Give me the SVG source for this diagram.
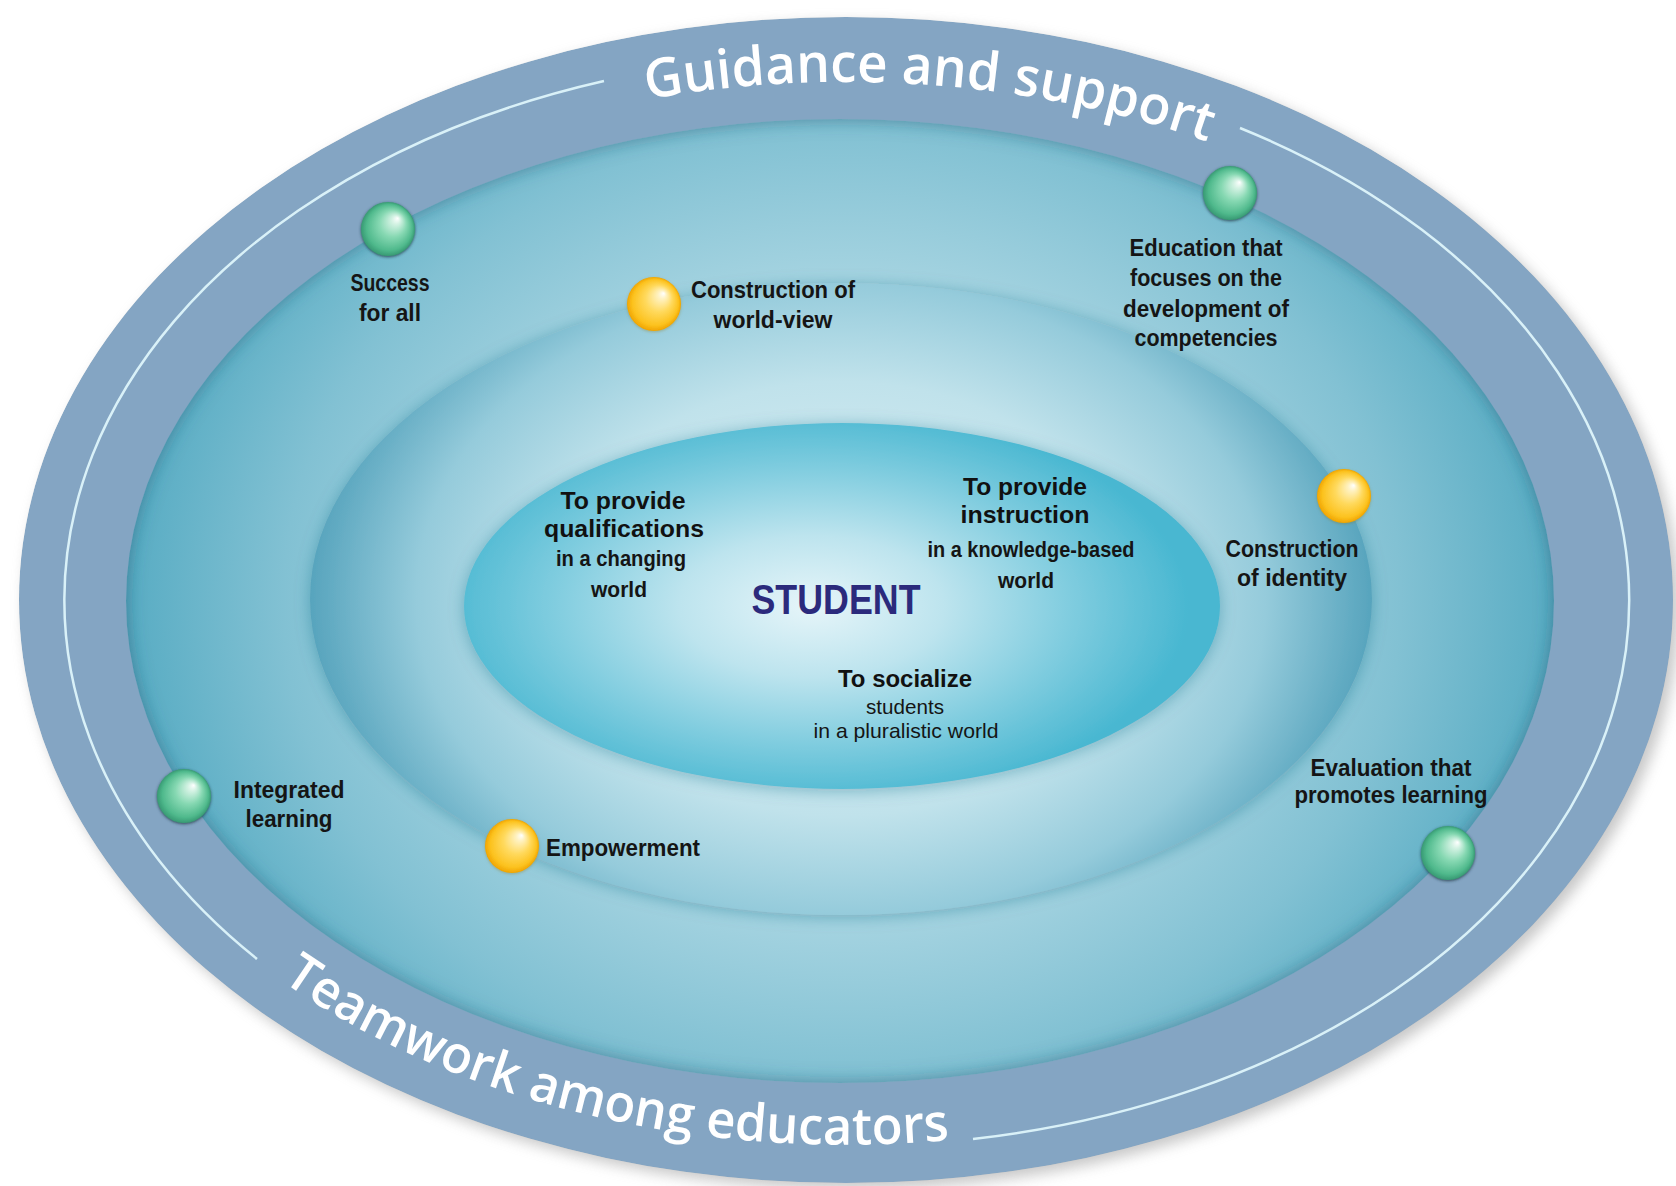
<svg xmlns="http://www.w3.org/2000/svg" width="1676" height="1186" viewBox="0 0 1676 1186">
<style>
.lbl{font-family:"Liberation Sans",Arial,sans-serif;font-size:23px;font-weight:700;fill:#151515;text-anchor:middle}
.hd{font-family:"Liberation Sans",Arial,sans-serif;font-size:24px;font-weight:700;fill:#111;text-anchor:middle}
.sub{font-family:"Liberation Sans",Arial,sans-serif;font-size:21px;font-weight:400;fill:#151515;text-anchor:middle}
.hd2{font-family:"Liberation Sans",Arial,sans-serif;font-size:22px;font-weight:700;fill:#151515;text-anchor:middle}
.student{font-family:"Liberation Sans",Arial,sans-serif;font-size:43px;font-weight:700;fill:#2b2a7c;text-anchor:middle}
.bandtxt{font-family:"Open Sans","Liberation Sans",sans-serif;font-size:54px;font-weight:600;fill:#ffffff}
.wline{fill:none;stroke:#d9f1f8;stroke-width:2.5}
</style>
<defs>
<radialGradient id="gTeal" cx="0.5" cy="0.5" r="0.5" gradientTransform="translate(0.5,0.5) scale(1,1.25) translate(-0.5,-0.5)">
<stop offset="0" stop-color="#c6e6ef"/>
<stop offset="0.5" stop-color="#a6d4e1"/>
<stop offset="0.75" stop-color="#82c1d3"/>
<stop offset="0.95" stop-color="#5aadc4"/>
<stop offset="1" stop-color="#4f9fb8"/>
</radialGradient>
<radialGradient id="gMid" cx="0.5" cy="0.5" r="0.5" gradientTransform="translate(0.5,0.5) scale(1,1.25) translate(-0.5,-0.5)">
<stop offset="0" stop-color="#e2f2f7"/>
<stop offset="0.55" stop-color="#c0e2eb"/>
<stop offset="0.8" stop-color="#95cbdb"/>
<stop offset="1" stop-color="#57a4bd"/>
</radialGradient>
<radialGradient id="gInner" cx="0.46" cy="0.5" r="0.5" gradientTransform="translate(0.5,0.5) scale(1,1.1) translate(-0.5,-0.5)">
<stop offset="0" stop-color="#e6f5f9"/>
<stop offset="0.35" stop-color="#bde4ee"/>
<stop offset="0.75" stop-color="#74c8dc"/>
<stop offset="1" stop-color="#48b7d1"/>
</radialGradient>
<radialGradient id="gGreen" cx="0.5" cy="0.5" r="0.5" fx="0.68" fy="0.3">
<stop offset="0" stop-color="#ffffff"/>
<stop offset="0.15" stop-color="#d6f3e5"/>
<stop offset="0.5" stop-color="#86d8b2"/>
<stop offset="0.85" stop-color="#4fb98c"/>
<stop offset="1" stop-color="#379973"/>
</radialGradient>
<radialGradient id="gYellow" cx="0.5" cy="0.5" r="0.5" fx="0.68" fy="0.3">
<stop offset="0" stop-color="#ffffff"/>
<stop offset="0.15" stop-color="#fff2c2"/>
<stop offset="0.5" stop-color="#ffd95c"/>
<stop offset="0.85" stop-color="#fcc21e"/>
<stop offset="1" stop-color="#f0a400"/>
</radialGradient>
<filter id="fOuter" x="-10%" y="-10%" width="120%" height="120%">
<feGaussianBlur stdDeviation="7"/>
</filter>
<filter id="fRing" x="-10%" y="-10%" width="120%" height="120%">
<feDropShadow dx="0" dy="0" stdDeviation="9" flood-color="#1b5a72" flood-opacity="0.55"/>
</filter>
<filter id="fSoft" x="-10%" y="-10%" width="120%" height="120%">
<feDropShadow dx="0" dy="2" stdDeviation="8" flood-color="#1f6a84" flood-opacity="0.4"/>
</filter>
<filter id="fBallG" x="-30%" y="-30%" width="160%" height="160%">
<feDropShadow dx="0" dy="1" stdDeviation="1.6" flood-color="#1d3b44" flood-opacity="0.85"/>
</filter>
<filter id="fBallY" x="-30%" y="-30%" width="160%" height="160%">
<feDropShadow dx="0" dy="1" stdDeviation="1.5" flood-color="#8a6a10" flood-opacity="0.35"/>
</filter>
<clipPath id="cOuter"><ellipse cx="846" cy="600" rx="827" ry="583"/></clipPath>
<path id="pTop" d="M 647,99.3 A 775 518 0 0 1 1207,141.6"/>
<path id="pBot" d="M 282,981 A 790 545 0 0 0 950,1140"/>
</defs>

<rect width="1676" height="1186" fill="#ffffff"/>

<g id="background">
<ellipse cx="852" cy="606" rx="827" ry="583" fill="#9a9a9a" opacity="0.55" filter="url(#fOuter)"/>
<ellipse id="teal-area" cx="842" cy="601" rx="745" ry="505" fill="url(#gTeal)"/>
</g>

<g id="ring-middle">
<ellipse cx="841" cy="599" rx="531" ry="316" fill="url(#gMid)" filter="url(#fSoft)"/>
</g>

<g id="ring-inner">
<ellipse cx="842" cy="606" rx="378" ry="183" fill="url(#gInner)" filter="url(#fSoft)"/>
</g>

<g id="band" clip-path="url(#cOuter)">
<path fill="#84a5c3" fill-rule="evenodd" filter="url(#fRing)" d="M 19,600 A 827 583 0 1 0 1673,600 A 827 583 0 1 0 19,600 Z M 126,601 A 714 482 0 1 0 1554,601 A 714 482 0 1 0 126,601 Z"/>
</g>

<g id="band-lines">
<path class="wline" d="M 604,81 A 782 546 0 0 0 257,959"/>
<path class="wline" d="M 1240,128 A 782 546 0 0 1 973,1139"/>
</g>

<g id="guidance-and-support">
<text class="bandtxt"><textPath href="#pTop" textLength="568" lengthAdjust="spacingAndGlyphs">Guidance and support</textPath></text>
</g>

<g id="teamwork-among-educators">
<text class="bandtxt" style="font-size:52px"><textPath href="#pBot" textLength="700" lengthAdjust="spacingAndGlyphs">Teamwork among educators</textPath></text>
</g>

<g id="connectors"></g>

<g id="node-success-for-all">
<circle cx="388" cy="229" r="27" fill="url(#gGreen)" filter="url(#fBallG)"/>
<text class="lbl" x="390" y="291" textLength="79" lengthAdjust="spacingAndGlyphs">Success</text>
<text class="lbl" x="390" y="321" textLength="62" lengthAdjust="spacingAndGlyphs">for all</text>
</g>

<g id="node-education-competencies">
<circle cx="1230" cy="193" r="27" fill="url(#gGreen)" filter="url(#fBallG)"/>
<text class="lbl" x="1206" y="256" textLength="153" lengthAdjust="spacingAndGlyphs">Education that</text>
<text class="lbl" x="1206" y="286" textLength="152" lengthAdjust="spacingAndGlyphs">focuses on the</text>
<text class="lbl" x="1206" y="317" textLength="166" lengthAdjust="spacingAndGlyphs">development of</text>
<text class="lbl" x="1206" y="346" textLength="143" lengthAdjust="spacingAndGlyphs">competencies</text>
</g>

<g id="node-integrated-learning">
<circle cx="184" cy="796" r="27" fill="url(#gGreen)" filter="url(#fBallG)"/>
<text class="lbl" x="289" y="798" textLength="111" lengthAdjust="spacingAndGlyphs">Integrated</text>
<text class="lbl" x="289" y="827" textLength="87" lengthAdjust="spacingAndGlyphs">learning</text>
</g>

<g id="node-evaluation">
<circle cx="1448" cy="853" r="27" fill="url(#gGreen)" filter="url(#fBallG)"/>
<text class="lbl" x="1391" y="776" textLength="161" lengthAdjust="spacingAndGlyphs">Evaluation that</text>
<text class="lbl" x="1391" y="803" textLength="193" lengthAdjust="spacingAndGlyphs">promotes learning</text>
</g>

<g id="node-world-view">
<circle cx="654" cy="304" r="27" fill="url(#gYellow)" filter="url(#fBallY)"/>
<text class="lbl" x="773" y="298" textLength="164" lengthAdjust="spacingAndGlyphs">Construction of</text>
<text class="lbl" x="773" y="328" textLength="119" lengthAdjust="spacingAndGlyphs">world-view</text>
</g>

<g id="node-identity">
<circle cx="1344" cy="496" r="27" fill="url(#gYellow)" filter="url(#fBallY)"/>
<text class="lbl" x="1292" y="557" textLength="133" lengthAdjust="spacingAndGlyphs">Construction</text>
<text class="lbl" x="1292" y="586" textLength="110" lengthAdjust="spacingAndGlyphs">of identity</text>
</g>

<g id="node-empowerment">
<circle cx="512" cy="846" r="27" fill="url(#gYellow)" filter="url(#fBallY)"/>
<text class="lbl" x="623" y="856" textLength="154" lengthAdjust="spacingAndGlyphs">Empowerment</text>
</g>

<g id="node-student">
<text class="student" x="836" y="614" textLength="169" lengthAdjust="spacingAndGlyphs">STUDENT</text>
</g>

<g id="node-qualifications">
<text class="hd" x="623" y="509" textLength="125" lengthAdjust="spacingAndGlyphs">To provide</text>
<text class="hd" x="624" y="537" textLength="160" lengthAdjust="spacingAndGlyphs">qualifications</text>
<text class="hd2" x="621" y="566" textLength="130" lengthAdjust="spacingAndGlyphs">in a changing</text>
<text class="hd2" x="619" y="597" textLength="56" lengthAdjust="spacingAndGlyphs">world</text>
</g>

<g id="node-instruction">
<text class="hd" x="1025" y="495" textLength="124" lengthAdjust="spacingAndGlyphs">To provide</text>
<text class="hd" x="1025" y="523" textLength="129" lengthAdjust="spacingAndGlyphs">instruction</text>
<text class="hd2" x="1031" y="557" textLength="207" lengthAdjust="spacingAndGlyphs">in a knowledge-based</text>
<text class="hd2" x="1026" y="588" textLength="56" lengthAdjust="spacingAndGlyphs">world</text>
</g>

<g id="node-socialize">
<text class="hd" x="905" y="687" textLength="134" lengthAdjust="spacingAndGlyphs">To socialize</text>
<text class="sub" x="905" y="714" textLength="78" lengthAdjust="spacingAndGlyphs">students</text>
<text class="sub" x="906" y="738" textLength="185" lengthAdjust="spacingAndGlyphs">in a pluralistic world</text>
</g>
</svg>
